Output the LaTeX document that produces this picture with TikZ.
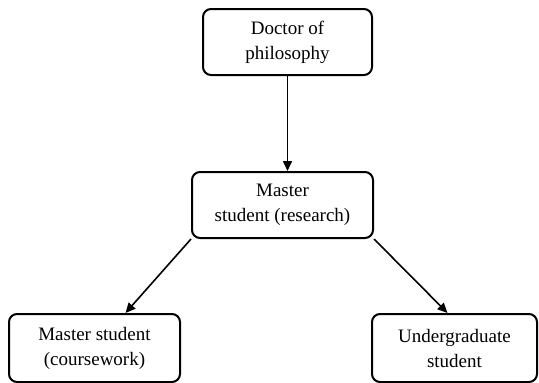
\documentclass[tikz,border=0pt]{standalone}
\usepackage{fontspec}
\setmainfont{Liberation Serif}
\usetikzlibrary{arrows.meta}
\begin{document}
\begin{tikzpicture}[x=1pt,y=-1pt,
  box/.style={draw, line width=2pt, rounded corners=8pt, align=center,
    font=\fontsize{19}{25}\selectfont, inner sep=0pt},
  arr/.style={-{Triangle[length=10pt,width=9pt]}, line width=1.6pt}]
\useasboundingbox (0,0) rectangle (539,383);
\node[box, minimum width=169pt, minimum height=66pt] (phd) at (287.5,42) {Doctor of\\philosophy};
\node[box, minimum width=181pt, minimum height=66pt] (mr) at (282.5,205) {Master\\student (research)};
\node[box, minimum width=171pt, minimum height=68pt] (mc) at (94.5,348) {Master student\\(coursework)};
\node[box, minimum width=165pt, minimum height=68pt] (ug) at (454.5,348) {Undergraduate\\student};
\draw[arr] (phd.south) -- (phd.south |- mr.north);
\draw[arr] (mr.south west) -- ([xshift=31pt]mc.north);
\draw[arr] (mr.south east) -- ([xshift=-7pt]ug.north);
\end{tikzpicture}
\end{document}
